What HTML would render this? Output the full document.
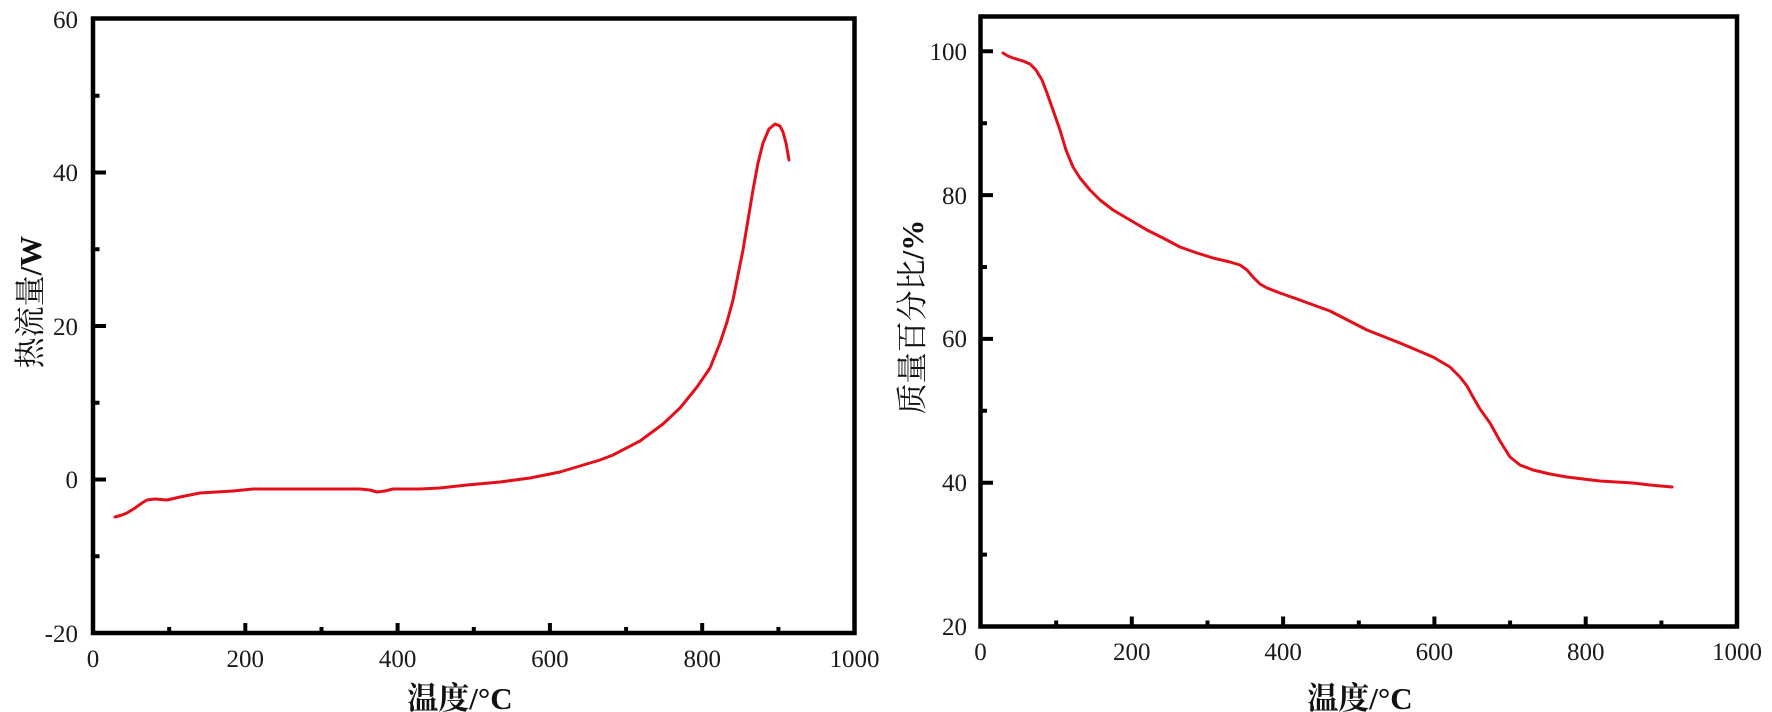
<!DOCTYPE html>
<html>
<head>
<meta charset="utf-8">
<style>
html,body{margin:0;padding:0;background:#fff;}
svg{display:block;}
.t{font-family:"Liberation Serif","Noto Serif CJK SC",serif;font-size:25px;fill:#1a1a1a;}
.lab{font-family:"Liberation Serif","Noto Serif CJK SC",serif;font-size:31px;fill:#111;}
</style>
</head>
<body>
<svg width="1772" height="712" viewBox="0 0 1772 712" xmlns="http://www.w3.org/2000/svg">
<rect width="1772" height="712" fill="#fff"/>

<!-- LEFT CHART -->
<g stroke="#000" fill="none" stroke-linecap="square">
  <rect x="93" y="18.5" width="761.5" height="614.5" stroke-width="4.5"/>
  <path d="M245.3 633V625 M397.6 633V625 M549.9 633V625 M702.2 633V625" stroke-width="4"/>
  <path d="M169.2 633V629 M321.5 633V629 M473.8 633V629 M626.1 633V629 M778.4 633V629" stroke-width="4"/>
  <path d="M93 479.5H104 M93 326H104 M93 172.5H104" stroke-width="4"/>
  <path d="M93 556.3H97.5 M93 402.8H97.5 M93 249.3H97.5 M93 95.8H97.5" stroke-width="4"/>
</g>
<g class="t" text-anchor="end">
  <text x="78" y="642">-20</text>
  <text x="78" y="488">0</text>
  <text x="78" y="335">20</text>
  <text x="78" y="181">40</text>
  <text x="78" y="28">60</text>
</g>
<g class="t" text-anchor="middle">
  <text x="93" y="667">0</text>
  <text x="245.3" y="667">200</text>
  <text x="397.6" y="667">400</text>
  <text x="549.9" y="667">600</text>
  <text x="702.2" y="667">800</text>
  <text x="854.5" y="667">1000</text>
</g>
<text class="lab" x="460" y="709" text-anchor="middle" font-weight="bold">温度/°C</text>
<text class="lab" transform="translate(41,302) rotate(-90)" text-anchor="middle">热流量<tspan font-weight="bold">/W</tspan></text>

<polyline fill="none" stroke="#e3101c" stroke-width="3" stroke-linejoin="round" stroke-linecap="round"
points="115,517 122,515 127,513 135,508 142,503 147,500 155,499 167,500 180,497 200,493 233,491 253,489 300,489 360,489 370,490 377,492 385,491 393,489 420,489 440,488 467,485 500,482 530,478 560,472 580,466 600,460 613,455 640,441 663,424 680,408 697,387 710,368 720,343 727,322 733,300 738,275 743,250 748,220 753,190 758,163 763,143 769,129 775,124 780,126 783,132 786,143 789,160"/>

<!-- RIGHT CHART -->
<g stroke="#000" fill="none" stroke-linecap="square">
  <rect x="980.5" y="16.5" width="756.5" height="610" stroke-width="4.5"/>
  <path d="M1131.8 626.5V618.5 M1283.1 626.5V618.5 M1434.4 626.5V618.5 M1585.7 626.5V618.5" stroke-width="4"/>
  <path d="M1056.2 626.5V622.5 M1207.5 626.5V622.5 M1358.8 626.5V622.5 M1510.1 626.5V622.5 M1661.4 626.5V622.5" stroke-width="4"/>
  <path d="M980.5 482.7H991 M980.5 338.9H991 M980.5 195.1H991 M980.5 51.3H991" stroke-width="4"/>
  <path d="M980.5 554.6H985 M980.5 410.8H985 M980.5 267H985 M980.5 123.2H985" stroke-width="4"/>
</g>
<g class="t" text-anchor="end">
  <text x="967" y="635">20</text>
  <text x="967" y="491">40</text>
  <text x="967" y="347">60</text>
  <text x="967" y="204">80</text>
  <text x="967" y="60">100</text>
</g>
<g class="t" text-anchor="middle">
  <text x="980.5" y="660">0</text>
  <text x="1131.8" y="660">200</text>
  <text x="1283.1" y="660">400</text>
  <text x="1434.4" y="660">600</text>
  <text x="1585.7" y="660">800</text>
  <text x="1737" y="660">1000</text>
</g>
<text class="lab" x="1360" y="709" text-anchor="middle" font-weight="bold">温度/°C</text>
<text class="lab" transform="translate(923,317) rotate(-90)" text-anchor="middle">质量百分比<tspan font-weight="bold">/%</tspan></text>

<polyline fill="none" stroke="#e3101c" stroke-width="3" stroke-linejoin="round" stroke-linecap="round"
points="1003,53 1008,56 1013,58 1023,61 1030,64 1036,70 1042,80 1047,93 1053,110 1060,130 1066,150 1073,167 1080,178 1090,190 1100,200 1113,210 1130,220 1147,230 1165,239 1180,247 1197,253 1213,258 1230,262 1240,265 1247,270 1253,277 1260,284 1267,288 1280,293 1297,299 1330,311 1367,330 1400,343 1433,357 1450,367 1460,377 1467,386 1473,397 1480,409 1490,423 1500,441 1510,457 1520,465 1533,470 1550,474 1567,477 1583,479 1600,481 1633,483 1650,485 1672,487"/>
</svg>
</body>
</html>
